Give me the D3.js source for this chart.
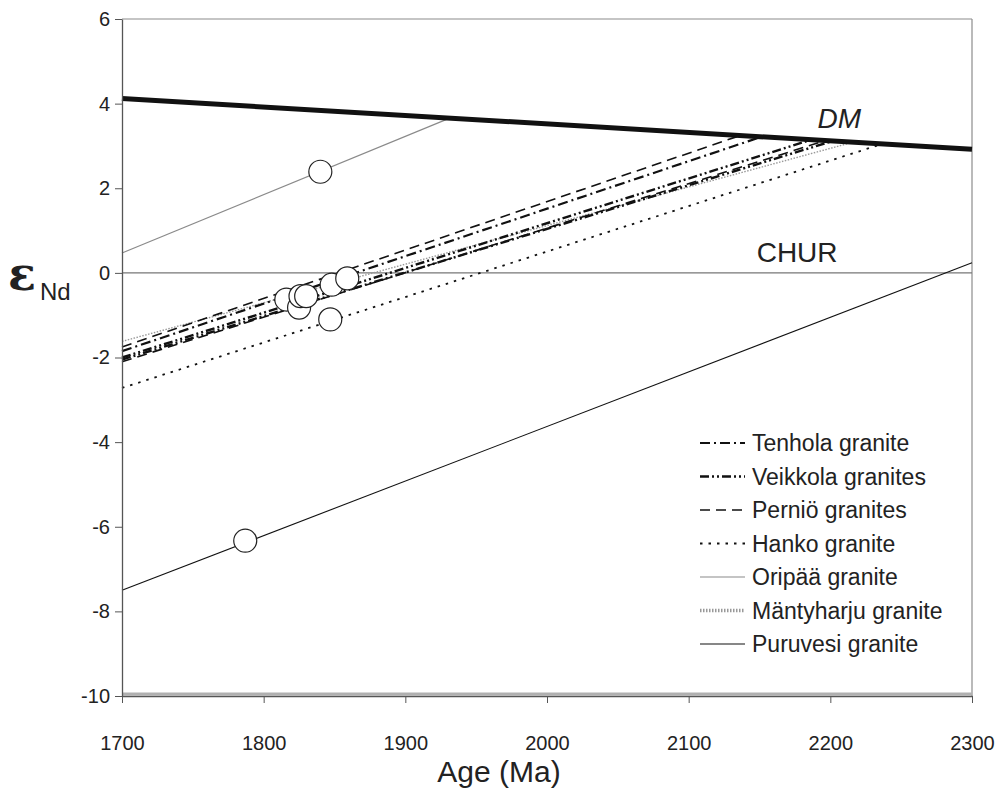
<html><head>
<meta charset="utf-8">
<title>eNd vs age</title>
<script src="https://d3js.org/d3.v7.min.js"></script>
<style>
  body { margin: 0; background: #fff; }
  svg text { font-family: "Liberation Sans", Arial, sans-serif; fill: #222; }
</style>
</head>
<body>
<div id="chart"></div>
<script>

// data: each granite line is [age, eNd] at the 1700 Ma edge and where it meets DM
var xTicks = [1700, 1800, 1900, 2000, 2100, 2200, 2300];
var yTicks = [-10, -8, -6, -4, -2, 0, 2, 4, 6];

var dmLine = [[1700, 4.12], [2300, 2.92]];
var churLine = [[1700, 0], [2300, 0]];

var pernio1 = [[1700, -1.75], [2135, 3.23]];
var tenhola = [[1700, -1.85], [2150, 3.2]];
var veikkola1 = [[1700, -2.0], [2185, 3.13]];
var pernio2 = [[1700, -2.1], [2195, 3.11]];
var veikkola2 = [[1700, -2.05], [2200, 3.1]];
var mantyharju = [[1700, -1.62], [2215, 3.08]];
var hanko = [[1700, -2.72], [2235, 3.03]];
var oripaa = [[1700, 0.47], [1930, 3.64]];
var puruvesi = [[1700, -7.5], [2300, 0.24]];

var samples = [[1840, 2.39], [1787, -6.33], [1816, -0.63], [1825, -0.82],
               [1826, -0.55], [1830, -0.55], [1848, -0.28], [1859, -0.13], [1847, -1.1]];

var legendNames = ["Tenhola granite", "Veikkola granites", "Perniö granites", "Hanko granite",
                   "Oripää granite", "Mäntyharju granite", "Puruvesi granite"];

// line styles
var styles = {
  tenhola:    {stroke: "#111", width: 2.2, dash: "10,4,2,4"},
  veikkola:   {stroke: "#111", width: 2.4, dash: "9,3,2,3,2,3"},
  pernio:     {stroke: "#111", width: 1.6, dash: "10,6"},
  hanko:      {stroke: "#111", width: 1.8, dash: "2.5,6"},
  oripaa:     {stroke: "#8a8a8a", width: 1.2, dash: null},
  mantyharju: {stroke: "#999", width: 1.4, dash: "1.5,1.5"},
  puruvesi:   {stroke: "#111", width: 1.1, dash: null}
};

var margin = {top: 19, right: 25, bottom: 92, left: 122};
var width = 972 - 122;
var height = 696 - 19;

var svg = d3.select("#chart")
  .append("svg")
    .attr("width", 997)
    .attr("height", 788);

var g = svg.append("g")
    .attr("transform", "translate(" + margin.left + "," + margin.top + ")");

var x = d3.scaleLinear().domain([1700, 2300]).range([0, width]);
var y = d3.scaleLinear().domain([-10, 6]).range([height, 0]);

var line = d3.line()
  .x(function(d) { return x(d[0]); })
  .y(function(d) { return y(d[1]); });

// frame (top, right) and bottom grey band
g.append("line").attr("x1", 0).attr("x2", width).attr("y1", 0).attr("y2", 0)
  .attr("stroke", "#8c8c8c").attr("stroke-width", 1.2);
g.append("line").attr("x1", width).attr("x2", width).attr("y1", 0).attr("y2", height)
  .attr("stroke", "#8c8c8c").attr("stroke-width", 1.2);
g.append("line").attr("x1", 0).attr("x2", width).attr("y1", y(-10) - 2).attr("y2", y(-10) - 2)
  .attr("stroke", "#b0b0b0").attr("stroke-width", 3);

// CHUR
g.append("path").datum(churLine)
  .attr("fill", "none").attr("stroke", "#777").attr("stroke-width", 1.4)
  .attr("d", line);

function drawLine(data, s) {
  g.append("path").datum(data)
    .attr("fill", "none")
    .attr("stroke", s.stroke)
    .attr("stroke-width", s.width)
    .attr("stroke-dasharray", s.dash)
    .attr("d", line);
}

drawLine(puruvesi, styles.puruvesi);
drawLine(oripaa, styles.oripaa);
drawLine(mantyharju, styles.mantyharju);
drawLine(hanko, styles.hanko);
drawLine(pernio1, styles.pernio);
drawLine(pernio2, styles.pernio);
drawLine(tenhola, styles.tenhola);
drawLine(veikkola1, styles.veikkola);
drawLine(veikkola2, styles.veikkola);

// DM
g.append("path").datum(dmLine)
  .attr("fill", "none").attr("stroke", "#111").attr("stroke-width", 5)
  .attr("d", line);

// samples
g.selectAll("circle.s").data(samples).enter().append("circle")
  .attr("class", "s")
  .attr("cx", function(d) { return x(d[0]); })
  .attr("cy", function(d) { return y(d[1]); })
  .attr("r", 11.5)
  .attr("fill", "#fff")
  .attr("stroke", "#222")
  .attr("stroke-width", 1.2);

// axes
var xAxis = g.append("g")
  .attr("transform", "translate(0," + height + ")")
  .call(d3.axisBottom(x).tickValues(xTicks).tickFormat(d3.format("d")).tickSize(7).tickSizeOuter(0));
xAxis.select(".domain").attr("stroke", "#555").attr("stroke-width", 1.3);
xAxis.selectAll(".tick line").attr("stroke", "#555");
xAxis.selectAll("text")
  .attr("y", 40)
  .style("font-size", "20px").style("fill", "#222");

var yAxis = g.append("g")
  .call(d3.axisLeft(y).tickValues(yTicks).tickFormat(function(d) { return String(d); })
    .tickSize(7).tickSizeOuter(0));
yAxis.select(".domain").attr("stroke", "#555").attr("stroke-width", 1.3);
yAxis.selectAll(".tick line").attr("stroke", "#555");
yAxis.selectAll("text")
  .attr("x", -12)
  .style("font-size", "20px").style("fill", "#222");

// labels
svg.append("text")
  .attr("x", 499).attr("y", 782)
  .attr("text-anchor", "middle")
  .style("font-size", "30px")
  .text("Age (Ma)");

var yl = svg.append("text").attr("x", 8).attr("y", 290);
yl.append("tspan")
  .style("font-family", "'DejaVu Serif', 'Liberation Serif', serif")
  .style("font-weight", "bold").style("font-size", "46px")
  .text("ε");
yl.append("tspan")
  .attr("dx", 4).attr("dy", 10)
  .style("font-size", "24px")
  .text("Nd");

g.append("text")
  .attr("x", x(2191)).attr("y", y(3.43))
  .style("font-size", "28px").style("font-style", "italic")
  .text("DM");
g.append("text")
  .attr("x", x(2148)).attr("y", y(0.26))
  .style("font-size", "28px")
  .text("CHUR");

// legend
var legendStyles = [styles.tenhola, styles.veikkola, styles.pernio, styles.hanko,
                    styles.oripaa, styles.mantyharju, styles.puruvesi];
var leg = svg.append("g").attr("transform", "translate(700,443)");
legendNames.forEach(function(name, i) {
  var s = legendStyles[i];
  var row = leg.append("g").attr("transform", "translate(0," + (i * 33.5) + ")");
  row.append("line")
    .attr("x1", 0).attr("x2", 45).attr("y1", 0).attr("y2", 0)
    .attr("stroke", s.stroke)
    .attr("stroke-width", i == 5 ? 3.5 : s.width)
    .attr("stroke-dasharray", s.dash);
  row.append("text")
    .attr("x", 52).attr("y", 8)
    .style("font-size", "23px")
    .text(name);
});

</script>
</body></html>
